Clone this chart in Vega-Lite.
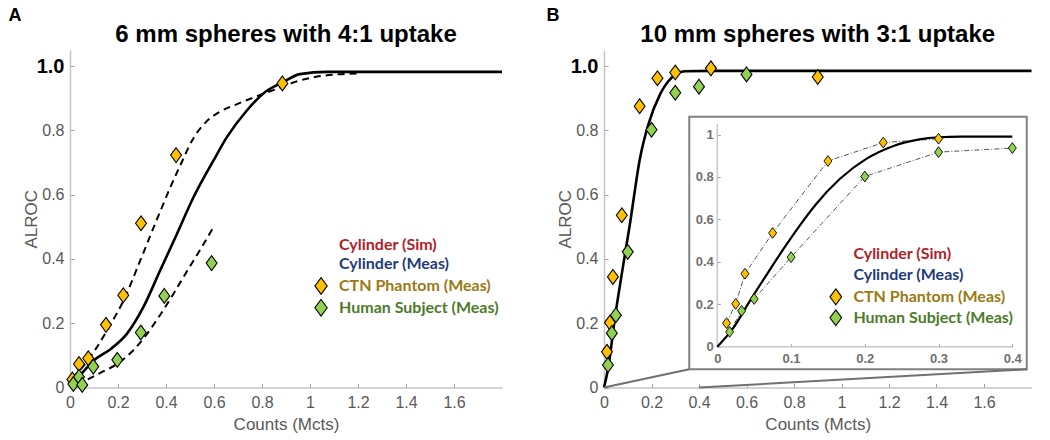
{
  "$schema": "https://vega.github.io/schema/vega-lite/v6.json",
  "background": "white",
  "padding": {"left": 8, "top": 6, "right": 10, "bottom": 5},
  "bounds": "flush",
  "spacing": 102,
  "config": {
    "view": {"stroke": null},
    "axis": {
      "domainColor": "#c4c4c4", "domainWidth": 1.5, "tickColor": "#a0a0a0", "tickWidth": 1, "tickSize": -4,
      "labelColor": "#595959", "labelFont": "Liberation Sans", "labelFontSize": 16, "labelFlush": false, "labelOverlap": false,
      "titleColor": "#595959", "titleFont": "Liberation Sans", "titleFontSize": 17, "titleFontWeight": "normal", "grid": false
    }
  },
  "datasets": {
    "A_pts": [
      {"x": 0.01, "y": 0.025, "series": "CTN Phantom (Meas)"},
      {"x": 0.0375, "y": 0.073, "series": "CTN Phantom (Meas)"},
      {"x": 0.076, "y": 0.091, "series": "CTN Phantom (Meas)"},
      {"x": 0.15, "y": 0.195, "series": "CTN Phantom (Meas)"},
      {"x": 0.222, "y": 0.287, "series": "CTN Phantom (Meas)"},
      {"x": 0.296, "y": 0.511, "series": "CTN Phantom (Meas)"},
      {"x": 0.442, "y": 0.723, "series": "CTN Phantom (Meas)"},
      {"x": 0.885, "y": 0.946, "series": "CTN Phantom (Meas)"},
      {"x": 0.014, "y": 0.011, "series": "Human Subject (Meas)"},
      {"x": 0.0375, "y": 0.033, "series": "Human Subject (Meas)"},
      {"x": 0.051, "y": 0.008, "series": "Human Subject (Meas)"},
      {"x": 0.097, "y": 0.065, "series": "Human Subject (Meas)"},
      {"x": 0.197, "y": 0.086, "series": "Human Subject (Meas)"},
      {"x": 0.295, "y": 0.171, "series": "Human Subject (Meas)"},
      {"x": 0.393, "y": 0.285, "series": "Human Subject (Meas)"},
      {"x": 0.59, "y": 0.387, "series": "Human Subject (Meas)"}
    ],
    "A_fit": [
      {"x": 0, "y": 0.01, "curve": "fit"},
      {"x": 0.05, "y": 0.045, "curve": "fit"},
      {"x": 0.097, "y": 0.083, "curve": "fit"},
      {"x": 0.17, "y": 0.12, "curve": "fit"},
      {"x": 0.236, "y": 0.166, "curve": "fit"},
      {"x": 0.305, "y": 0.249, "curve": "fit"},
      {"x": 0.375, "y": 0.363, "curve": "fit"},
      {"x": 0.445, "y": 0.477, "curve": "fit"},
      {"x": 0.514, "y": 0.591, "curve": "fit"},
      {"x": 0.597, "y": 0.705, "curve": "fit"},
      {"x": 0.653, "y": 0.778, "curve": "fit"},
      {"x": 0.736, "y": 0.861, "curve": "fit"},
      {"x": 0.82, "y": 0.923, "curve": "fit"},
      {"x": 0.885, "y": 0.949, "curve": "fit"},
      {"x": 0.958, "y": 0.975, "curve": "fit"},
      {"x": 1.07, "y": 0.982, "curve": "fit"},
      {"x": 1.8, "y": 0.982, "curve": "fit"},
      {"x": 0.01, "y": 0.03, "curve": "upper"},
      {"x": 0.0625, "y": 0.073, "curve": "upper"},
      {"x": 0.111, "y": 0.124, "curve": "upper"},
      {"x": 0.153, "y": 0.176, "curve": "upper"},
      {"x": 0.229, "y": 0.28, "curve": "upper"},
      {"x": 0.292, "y": 0.394, "curve": "upper"},
      {"x": 0.354, "y": 0.508, "curve": "upper"},
      {"x": 0.424, "y": 0.633, "curve": "upper"},
      {"x": 0.465, "y": 0.7, "curve": "upper"},
      {"x": 0.51, "y": 0.77, "curve": "upper"},
      {"x": 0.569, "y": 0.828, "curve": "upper"},
      {"x": 0.625, "y": 0.858, "curve": "upper"},
      {"x": 0.694, "y": 0.881, "curve": "upper"},
      {"x": 0.764, "y": 0.902, "curve": "upper"},
      {"x": 0.847, "y": 0.925, "curve": "upper"},
      {"x": 0.93, "y": 0.949, "curve": "upper"},
      {"x": 1.014, "y": 0.965, "curve": "upper"},
      {"x": 1.11, "y": 0.974, "curve": "upper"},
      {"x": 1.21, "y": 0.977, "curve": "upper"},
      {"x": 0.03, "y": 0.008, "curve": "lower"},
      {"x": 0.06, "y": 0.02, "curve": "lower"},
      {"x": 0.125, "y": 0.045, "curve": "lower"},
      {"x": 0.2, "y": 0.075, "curve": "lower"},
      {"x": 0.264, "y": 0.116, "curve": "lower"},
      {"x": 0.32, "y": 0.166, "curve": "lower"},
      {"x": 0.375, "y": 0.225, "curve": "lower"},
      {"x": 0.43, "y": 0.29, "curve": "lower"},
      {"x": 0.486, "y": 0.36, "curve": "lower"},
      {"x": 0.542, "y": 0.428, "curve": "lower"},
      {"x": 0.597, "y": 0.498, "curve": "lower"}
    ],
    "B_pts": [
      {"x": 0.0125, "y": 0.111, "series": "CTN Phantom (Meas)"},
      {"x": 0.025, "y": 0.202, "series": "CTN Phantom (Meas)"},
      {"x": 0.0375, "y": 0.344, "series": "CTN Phantom (Meas)"},
      {"x": 0.075, "y": 0.536, "series": "CTN Phantom (Meas)"},
      {"x": 0.15, "y": 0.875, "series": "CTN Phantom (Meas)"},
      {"x": 0.225, "y": 0.962, "series": "CTN Phantom (Meas)"},
      {"x": 0.3, "y": 0.98, "series": "CTN Phantom (Meas)"},
      {"x": 0.45, "y": 0.993, "series": "CTN Phantom (Meas)"},
      {"x": 0.9, "y": 0.966, "series": "CTN Phantom (Meas)"},
      {"x": 0.0167, "y": 0.07, "series": "Human Subject (Meas)"},
      {"x": 0.033, "y": 0.169, "series": "Human Subject (Meas)"},
      {"x": 0.05, "y": 0.225, "series": "Human Subject (Meas)"},
      {"x": 0.1, "y": 0.422, "series": "Human Subject (Meas)"},
      {"x": 0.2, "y": 0.802, "series": "Human Subject (Meas)"},
      {"x": 0.3, "y": 0.917, "series": "Human Subject (Meas)"},
      {"x": 0.4, "y": 0.936, "series": "Human Subject (Meas)"},
      {"x": 0.6, "y": 0.974, "series": "Human Subject (Meas)"}
    ],
    "B_fit": [
      {"x": 0, "y": 0},
      {"x": 0.018, "y": 0.062},
      {"x": 0.046, "y": 0.217},
      {"x": 0.0745, "y": 0.352},
      {"x": 0.109, "y": 0.508},
      {"x": 0.152, "y": 0.715},
      {"x": 0.187, "y": 0.819},
      {"x": 0.236, "y": 0.912},
      {"x": 0.285, "y": 0.964},
      {"x": 0.341, "y": 0.984},
      {"x": 0.45, "y": 0.985},
      {"x": 1.8, "y": 0.985}
    ],
    "B_inset_fit": [
      {"x": 0, "y": 0},
      {"x": 0.022, "y": 0.09},
      {"x": 0.044, "y": 0.215},
      {"x": 0.067, "y": 0.34},
      {"x": 0.09, "y": 0.462},
      {"x": 0.112, "y": 0.572},
      {"x": 0.133, "y": 0.668},
      {"x": 0.166, "y": 0.79},
      {"x": 0.202, "y": 0.885},
      {"x": 0.238, "y": 0.945},
      {"x": 0.274, "y": 0.977},
      {"x": 0.3, "y": 0.987},
      {"x": 0.33, "y": 0.99},
      {"x": 0.4, "y": 0.99}
    ]
  },
  "hconcat": [
    {
      "width": 432,
      "height": 337.5,
      "title": {"text": "6 mm spheres with 4:1 uptake", "font": "Liberation Sans", "fontSize": 24, "fontWeight": "bold", "color": "#000000", "anchor": "middle", "frame": "group", "offset": 6, "dy": 46},
      "layer": [
        {
          "data": {"name": "A_fit"},
          "transform": [{"filter": "datum.curve == 'fit'"}],
          "mark": {"type": "line", "color": "#000000", "strokeWidth": 2.6, "interpolate": "monotone"},
          "encoding": {
            "x": {"field": "x", "type": "quantitative", "scale": {"domain": [0, 1.8], "nice": false, "zero": false},
                  "axis": {"values": [0, 0.2, 0.4, 0.6, 0.8, 1, 1.2, 1.4, 1.6], "labelExpr": "toString(datum.value)", "labelPadding": 11, "title": "Counts (Mcts)", "titlePadding": 6}},
            "y": {"field": "y", "type": "quantitative", "scale": {"domain": [0, 1.05], "nice": false, "zero": false},
                  "axis": {"values": [0, 0.2, 0.4, 0.6, 0.8, 1], "labelExpr": "datum.value == 1 ? '1.0' : toString(datum.value)", "labelPadding": 10,
                           "labelColor": {"condition": {"test": "datum.value == 1", "value": "#000000"}, "value": "#595959"},
                           "labelFontWeight": {"condition": {"test": "datum.value == 1", "value": "bold"}, "value": "normal"},
                           "labelFontSize": {"condition": {"test": "datum.value == 1", "value": 20}, "value": 16},
                           "title": "ALROC", "titleX": -30, "titleY": 168.75}}
          }
        },
        {
          "data": {"name": "A_fit"},
          "transform": [{"filter": "datum.curve != 'fit'"}],
          "mark": {"type": "line", "color": "#000000", "strokeWidth": 2, "strokeDash": [7, 5], "interpolate": "monotone"},
          "encoding": {
            "x": {"field": "x", "type": "quantitative"},
            "y": {"field": "y", "type": "quantitative"},
            "detail": {"field": "curve"}
          }
        },
        {
          "data": {"name": "A_pts"},
          "mark": {"type": "point", "shape": "M0,-1.15L0.85,0L0,1.15L-0.85,0Z", "filled": true, "size": 165, "stroke": "#000000", "strokeWidth": 1.1, "opacity": 1},
          "encoding": {
            "x": {"field": "x", "type": "quantitative"},
            "y": {"field": "y", "type": "quantitative"},
            "fill": {"field": "series", "type": "nominal", "scale": {"domain": ["CTN Phantom (Meas)", "Human Subject (Meas)"], "range": ["#FFC000", "#92D050"]}, "legend": null}
          }
        },
        {
          "data": {"values": [{"series": "CTN Phantom (Meas)"}]},
          "mark": {"type": "point", "shape": "M0,-1.15L0.85,0L0,1.15L-0.85,0Z", "filled": true, "size": 210, "fill": "#FFC000", "stroke": "#000000", "strokeWidth": 1.1, "opacity": 1},
          "encoding": {"x": {"datum": 1.046, "type": "quantitative"}, "y": {"datum": 0.316, "type": "quantitative"}}
        },
        {
          "data": {"values": [{"series": "Human Subject (Meas)"}]},
          "mark": {"type": "point", "shape": "M0,-1.15L0.85,0L0,1.15L-0.85,0Z", "filled": true, "size": 210, "fill": "#92D050", "stroke": "#000000", "strokeWidth": 1.1, "opacity": 1},
          "encoding": {"x": {"datum": 1.046, "type": "quantitative"}, "y": {"datum": 0.248, "type": "quantitative"}}
        },
        {
          "data": {"values": [{"label": "Cylinder (Sim)"}]},
          "mark": {"type": "text", "align": "left", "baseline": "middle", "font": "Lato", "fontSize": 16, "fontWeight": "bold", "color": "#B22028"},
          "encoding": {"x": {"datum": 1.121, "type": "quantitative"}, "y": {"datum": 0.444, "type": "quantitative"}, "text": {"field": "label"}}
        },
        {
          "data": {"values": [{"label": "Cylinder (Meas)"}]},
          "mark": {"type": "text", "align": "left", "baseline": "middle", "font": "Lato", "fontSize": 16, "fontWeight": "bold", "color": "#1F3B7A"},
          "encoding": {"x": {"datum": 1.121, "type": "quantitative"}, "y": {"datum": 0.384, "type": "quantitative"}, "text": {"field": "label"}}
        },
        {
          "data": {"values": [{"label": "CTN Phantom (Meas)"}]},
          "mark": {"type": "text", "align": "left", "baseline": "middle", "font": "Lato", "fontSize": 16, "fontWeight": "bold", "color": "#9A7A12"},
          "encoding": {"x": {"datum": 1.121, "type": "quantitative"}, "y": {"datum": 0.316, "type": "quantitative"}, "text": {"field": "label"}}
        },
        {
          "data": {"values": [{"label": "Human Subject (Meas)"}]},
          "mark": {"type": "text", "align": "left", "baseline": "middle", "font": "Lato", "fontSize": 16, "fontWeight": "bold", "color": "#4D7B2A"},
          "encoding": {"x": {"datum": 1.121, "type": "quantitative"}, "y": {"datum": 0.248, "type": "quantitative"}, "text": {"field": "label"}}
        },
        {
          "data": {"values": [{"label": "A"}]},
          "mark": {"type": "text", "align": "center", "baseline": "middle", "font": "Liberation Sans", "fontSize": 18, "fontWeight": "bold", "color": "#000000"},
          "encoding": {"x": {"datum": -0.229, "type": "quantitative"}, "y": {"datum": 1.156, "type": "quantitative"}, "text": {"field": "label"}}
        }
      ]
    },
    {
      "width": 427.5,
      "height": 337.5,
      "title": {"text": "10 mm spheres with 3:1 uptake", "font": "Liberation Sans", "fontSize": 24, "fontWeight": "bold", "color": "#000000", "anchor": "middle", "frame": "group", "offset": 6, "dy": 46},
      "resolve": {"scale": {"x": "independent", "y": "independent"}},
      "layer": [
        {
          "layer": [
            {
              "data": {"name": "B_fit"},
              "mark": {"type": "line", "color": "#000000", "strokeWidth": 2.6, "interpolate": "monotone"},
              "encoding": {
                "x": {"field": "x", "type": "quantitative", "scale": {"domain": [0, 1.8], "nice": false, "zero": false},
                      "axis": {"values": [0, 0.2, 0.4, 0.6, 0.8, 1, 1.2, 1.4, 1.6], "labelExpr": "toString(datum.value)", "labelPadding": 11, "title": "Counts (Mcts)", "titlePadding": 6}},
                "y": {"field": "y", "type": "quantitative", "scale": {"domain": [0, 1.05], "nice": false, "zero": false},
                      "axis": {"values": [0, 0.2, 0.4, 0.6, 0.8, 1], "labelExpr": "datum.value == 1 ? '1.0' : toString(datum.value)", "labelPadding": 10,
                               "labelColor": {"condition": {"test": "datum.value == 1", "value": "#000000"}, "value": "#595959"},
                               "labelFontWeight": {"condition": {"test": "datum.value == 1", "value": "bold"}, "value": "normal"},
                               "labelFontSize": {"condition": {"test": "datum.value == 1", "value": 20}, "value": 16},
                               "title": "ALROC", "titleX": -30, "titleY": 168.75}}
              }
            },
            {
              "data": {"values": [{}]},
              "mark": {"type": "rect", "filled": false, "stroke": "#808080", "strokeWidth": 2},
              "encoding": {
                "x": {"datum": 0.359, "type": "quantitative"}, "x2": {"datum": 1.78},
                "y": {"datum": 0.0566, "type": "quantitative"}, "y2": {"datum": 0.842}
              }
            },
            {
              "data": {"values": [{}]},
              "mark": {"type": "rule", "color": "#707070", "strokeWidth": 2},
              "encoding": {
                "x": {"datum": 0, "type": "quantitative"}, "x2": {"datum": 0.359},
                "y": {"datum": 0, "type": "quantitative"}, "y2": {"datum": 0.0566}
              }
            },
            {
              "data": {"values": [{}]},
              "mark": {"type": "rule", "color": "#707070", "strokeWidth": 2},
              "encoding": {
                "x": {"datum": 0.4, "type": "quantitative"}, "x2": {"datum": 1.78},
                "y": {"datum": 0, "type": "quantitative"}, "y2": {"datum": 0.0566}
              }
            },
            {
              "data": {"name": "B_pts"},
              "mark": {"type": "point", "shape": "M0,-1.15L0.85,0L0,1.15L-0.85,0Z", "filled": true, "size": 165, "stroke": "#000000", "strokeWidth": 1.1, "opacity": 1},
              "encoding": {
                "x": {"field": "x", "type": "quantitative"},
                "y": {"field": "y", "type": "quantitative"},
                "fill": {"field": "series", "type": "nominal", "scale": {"domain": ["CTN Phantom (Meas)", "Human Subject (Meas)"], "range": ["#FFC000", "#92D050"]}, "legend": null}
              }
            },
            {
              "data": {"values": [{"series": "CTN Phantom (Meas)"}]},
              "mark": {"type": "point", "shape": "M0,-1.15L0.85,0L0,1.15L-0.85,0Z", "filled": true, "size": 190, "fill": "#FFC000", "stroke": "#000000", "strokeWidth": 1.1, "opacity": 1},
              "encoding": {"x": {"datum": 0.976, "type": "quantitative"}, "y": {"datum": 0.282, "type": "quantitative"}}
            },
            {
              "data": {"values": [{"series": "Human Subject (Meas)"}]},
              "mark": {"type": "point", "shape": "M0,-1.15L0.85,0L0,1.15L-0.85,0Z", "filled": true, "size": 190, "fill": "#92D050", "stroke": "#000000", "strokeWidth": 1.1, "opacity": 1},
              "encoding": {"x": {"datum": 0.976, "type": "quantitative"}, "y": {"datum": 0.217, "type": "quantitative"}}
            },
            {
              "data": {"values": [{"label": "Cylinder (Sim)"}]},
              "mark": {"type": "text", "align": "left", "baseline": "middle", "font": "Lato", "fontSize": 16, "fontWeight": "bold", "color": "#B22028"},
              "encoding": {"x": {"datum": 1.05, "type": "quantitative"}, "y": {"datum": 0.414, "type": "quantitative"}, "text": {"field": "label"}}
            },
            {
              "data": {"values": [{"label": "Cylinder (Meas)"}]},
              "mark": {"type": "text", "align": "left", "baseline": "middle", "font": "Lato", "fontSize": 16, "fontWeight": "bold", "color": "#1F3B7A"},
              "encoding": {"x": {"datum": 1.05, "type": "quantitative"}, "y": {"datum": 0.349, "type": "quantitative"}, "text": {"field": "label"}}
            },
            {
              "data": {"values": [{"label": "CTN Phantom (Meas)"}]},
              "mark": {"type": "text", "align": "left", "baseline": "middle", "font": "Lato", "fontSize": 16, "fontWeight": "bold", "color": "#9A7A12"},
              "encoding": {"x": {"datum": 1.05, "type": "quantitative"}, "y": {"datum": 0.282, "type": "quantitative"}, "text": {"field": "label"}}
            },
            {
              "data": {"values": [{"label": "Human Subject (Meas)"}]},
              "mark": {"type": "text", "align": "left", "baseline": "middle", "font": "Lato", "fontSize": 16, "fontWeight": "bold", "color": "#4D7B2A"},
              "encoding": {"x": {"datum": 1.05, "type": "quantitative"}, "y": {"datum": 0.217, "type": "quantitative"}, "text": {"field": "label"}}
            },
            {
              "data": {"values": [{"label": "B"}]},
              "mark": {"type": "text", "align": "center", "baseline": "middle", "font": "Liberation Sans", "fontSize": 18, "fontWeight": "bold", "color": "#000000"},
              "encoding": {"x": {"datum": -0.215, "type": "quantitative"}, "y": {"datum": 1.156, "type": "quantitative"}, "text": {"field": "label"}}
            }
          ]
        },
        {
          "layer": [
            {
              "data": {"values": [{}]},
              "mark": {"type": "rule", "color": "#c8c8c8", "strokeWidth": 1.5},
              "encoding": {
                "x": {"datum": 0, "type": "quantitative", "scale": {"domain": [-0.15363, 0.42603], "nice": false, "zero": false},
                      "axis": {"orient": "bottom", "offset": -40.8, "domain": false, "values": [0, 0.1, 0.2, 0.3, 0.4], "labelExpr": "toString(datum.value)", "tickSize": -3, "labelFontSize": 13, "labelFontWeight": "bold", "labelColor": "#707070", "labelPadding": 9, "title": null}},
                "y": {"datum": 0, "type": "quantitative", "scale": {"domain": [-0.19227, 1.39821], "nice": false, "zero": false},
                      "axis": {"orient": "left", "offset": -113.3, "domain": false, "values": [0, 0.2, 0.4, 0.6, 0.8, 1], "labelExpr": "toString(datum.value)", "tickSize": -3, "labelFontSize": 13, "labelFontWeight": "bold", "labelColor": "#707070", "labelPadding": 7, "title": null}},
                "y2": {"datum": 1.05}
              }
            },
            {
              "data": {"values": [{}]},
              "mark": {"type": "rule", "color": "#c8c8c8", "strokeWidth": 1.5},
              "encoding": {
                "x": {"datum": 0, "type": "quantitative"}, "x2": {"datum": 0.4},
                "y": {"datum": 0, "type": "quantitative"}
              }
            },
            {
              "data": {"name": "B_pts"},
              "transform": [{"filter": "datum.x <= 0.4"}],
              "mark": {"type": "line", "color": "#555555", "strokeWidth": 1, "strokeDash": [5, 2, 1, 2]},
              "encoding": {
                "x": {"field": "x", "type": "quantitative"},
                "y": {"field": "y", "type": "quantitative"},
                "detail": {"field": "series"}
              }
            },
            {
              "data": {"name": "B_inset_fit"},
              "mark": {"type": "line", "color": "#000000", "strokeWidth": 2.2, "interpolate": "monotone"},
              "encoding": {
                "x": {"field": "x", "type": "quantitative"},
                "y": {"field": "y", "type": "quantitative"}
              }
            },
            {
              "data": {"name": "B_pts"},
              "transform": [{"filter": "datum.x <= 0.4"}],
              "mark": {"type": "point", "shape": "M0,-1.15L0.85,0L0,1.15L-0.85,0Z", "filled": true, "size": 88, "stroke": "#000000", "strokeWidth": 0.9, "opacity": 1},
              "encoding": {
                "x": {"field": "x", "type": "quantitative"},
                "y": {"field": "y", "type": "quantitative"},
                "fill": {"field": "series", "type": "nominal", "scale": {"domain": ["CTN Phantom (Meas)", "Human Subject (Meas)"], "range": ["#FFC000", "#92D050"]}, "legend": null}
              }
            }
          ]
        }
      ]
    }
  ]
}
